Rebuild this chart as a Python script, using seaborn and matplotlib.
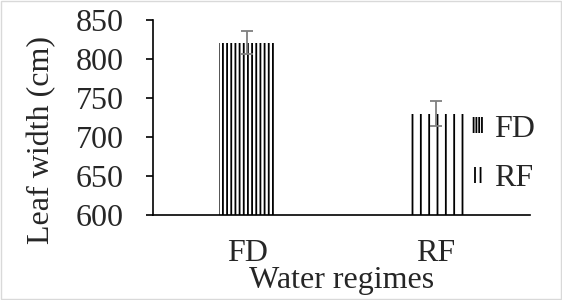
import matplotlib
matplotlib.use("Agg")
import matplotlib.pyplot as plt
import matplotlib.patches as mpatches
import pandas as pd
import seaborn as sns

# values
regimes = ["FD", "RF"]
leaf_width = [821, 730]
leaf_err = [15, 16]
hatches = ["||||", "||"]
legend_hatches = ["||||||", "|||"]

sns.set_style("white")
plt.rcParams["font.family"] = ["Liberation Serif", "DejaVu Serif"]
plt.rcParams["hatch.linewidth"] = 1.3
plt.rcParams["hatch.color"] = "black"

df = pd.DataFrame({"Water regimes": regimes, "Leaf width": leaf_width})

fig = plt.figure(figsize=(5.62, 3.0), dpi=100)
ax = fig.add_axes([0.272, 0.283, 0.671, 0.65])

sns.barplot(data=df, x="Water regimes", y="Leaf width", hue="Water regimes",
            palette=["white", "white"], errorbar=None, width=0.3,
            dodge=False, legend=False, ax=ax)
for bar, h in zip(ax.patches, hatches):
    bar.set_hatch(h)
    bar.set_edgecolor("black")
    bar.set_linewidth(0)

ax.errorbar(range(len(regimes)), leaf_width, yerr=leaf_err, fmt="none",
            ecolor="#7f7f7f", elinewidth=1.3, capsize=4, capthick=1.3)

ax.set_ylim(600, 850)
ax.set_yticks([600, 650, 700, 750, 800, 850])
ax.set_xlim(-0.5, 1.5)
sns.despine(ax=ax, top=True, right=True)
ax.spines["left"].set_color("black")
ax.spines["bottom"].set_color("black")
ax.spines["left"].set_linewidth(1.2)
ax.spines["bottom"].set_linewidth(1.2)
ax.tick_params(axis="y", left=True, length=5, width=1.2, color="black",
               labelsize=23, pad=16)
ax.tick_params(axis="x", bottom=False, labelsize=23, pad=14)
ax.set_ylabel("Leaf width (cm)", fontsize=23)
ax.yaxis.set_label_coords(-0.255, 0.385)
ax.set_xlabel("Water regimes", fontsize=23, labelpad=-2)

handles = [mpatches.Patch(facecolor="white", edgecolor="black", hatch=h,
                          linewidth=0, label=r)
           for h, r in zip(legend_hatches, regimes)]
fig.legend(handles=handles, loc="center left", bbox_to_anchor=(0.84, 0.487),
           frameon=False, fontsize=23, handlelength=0.35, handleheight=0.4,
           handletextpad=0.35, labelspacing=0.65, borderpad=0,
           borderaxespad=0)

fig.patches.append(mpatches.Rectangle((0.002, 0.003), 0.996, 0.994,
                                      transform=fig.transFigure, fill=False,
                                      edgecolor="#d9d9d9", linewidth=1))

fig.savefig("out.png", dpi=100)
